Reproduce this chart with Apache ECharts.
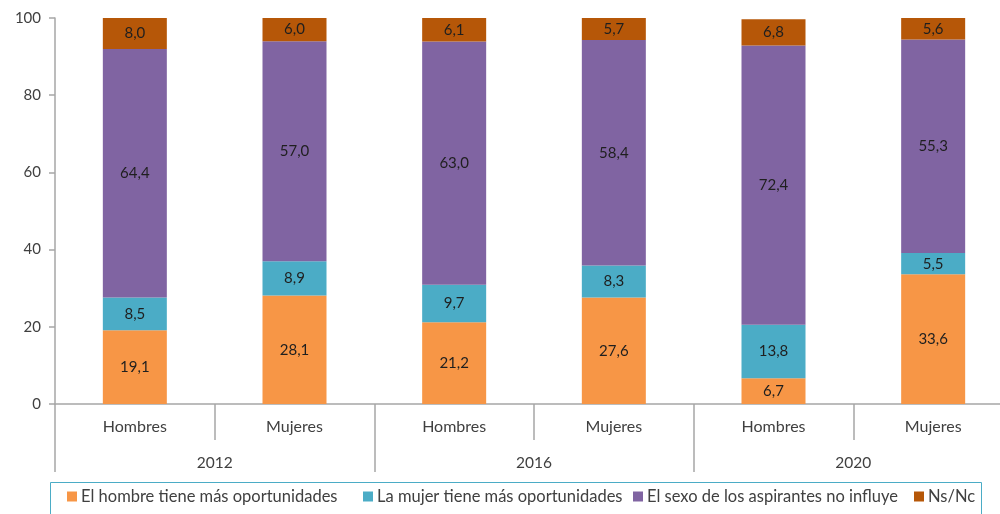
<!DOCTYPE html>
<html>
<head>
<meta charset="utf-8">
<script src="https://cdn.jsdelivr.net/npm/echarts@6/dist/echarts.min.js"></script>
<style>
  html, body { margin: 0; padding: 0; background: #fff; }
  #chart { width: 1000px; height: 514px; }
</style>
</head>
<body>
<div id="chart"></div>
<script>
// Categories: respondent sex within each survey year
const groups = ['Hombres', 'Mujeres', 'Hombres', 'Mujeres', 'Hombres', 'Mujeres'];
const years = ['2012', '2016', '2020'];

// Percentages for each answer, one value per bar
const hombreMas = [19.1, 28.1, 21.2, 27.6, 6.7, 33.6];
const mujerMas = [8.5, 8.9, 9.7, 8.3, 13.8, 5.5];
const noInfluye = [64.4, 57.0, 63.0, 58.4, 72.4, 55.3];
const nsnc = [8.0, 6.0, 6.1, 5.7, 6.8, 5.6];

const seriesNames = [
  'El hombre tiene más oportunidades',
  'La mujer tiene más oportunidades',
  'El sexo de los aspirantes no influye',
  'Ns/Nc'
];
const seriesData = [hombreMas, mujerMas, noInfluye, nsnc];
const colors = ['#F79646', '#4BACC6', '#8064A2', '#B65708'];

const FONT = 'Lato';
const axisGray = '#A6A6A6';
const textColor = '#404040';

// left edge of each legend entry inside the framed legend box
const legendLefts = [67, 363, 633, 914];

const chart = echarts.init(document.getElementById('chart'), null, { renderer: 'canvas' });

chart.setOption({
  animation: false,
  textStyle: { fontFamily: FONT },
  // the last category runs a little past the right edge of the canvas
  grid: { left: 55, top: 18, width: 958, height: 386, containLabel: false, outerBoundsMode: 'none' },
  graphic: [{
    type: 'rect',
    shape: { x: 50.5, y: 482.5, width: 931, height: 40 },
    style: { fill: 'none', stroke: '#4BACC6', lineWidth: 1 },
    silent: true
  }],
  legend: seriesNames.map((name, i) => ({
    left: legendLefts[i],
    top: 488,
    padding: 0,
    itemWidth: 10,
    itemHeight: 10,
    icon: 'rect',
    textStyle: { fontFamily: FONT, fontSize: 16.5, color: textColor, padding: [0, 0, 0, -1] },
    data: [name]
  })),
  xAxis: [{
    type: 'category',
    data: groups,
    position: 'bottom',
    axisLine: { lineStyle: { color: axisGray, width: 1.5 } },
    axisTick: { show: true, interval: 0, length: 36, lineStyle: { color: axisGray, width: 1.5 } },
    axisLabel: { interval: 0, margin: 15, fontFamily: FONT, fontSize: 16, color: textColor }
  }, {
    type: 'category',
    data: years,
    position: 'bottom',
    axisLine: { show: false },
    axisTick: { show: true, interval: 0, length: 68, lineStyle: { color: axisGray, width: 1.5 } },
    axisLabel: { interval: 0, margin: 51, fontFamily: FONT, fontSize: 15.5, color: textColor }
  }],
  yAxis: {
    type: 'value',
    min: 0,
    max: 100,
    interval: 20,
    axisLine: { show: true, lineStyle: { color: axisGray, width: 1.5 } },
    axisTick: { show: true, length: 6, lineStyle: { color: axisGray, width: 1.5 } },
    splitLine: { show: false },
    axisLabel: { margin: 14, fontFamily: FONT, fontSize: 15, color: textColor }
  },
  series: seriesData.map((d, i) => ({
    name: seriesNames[i],
    type: 'bar',
    stack: 'total',
    xAxisIndex: 0,
    barWidth: 64,
    data: d,
    itemStyle: { color: colors[i] },
    label: {
      show: true,
      position: 'inside',
      fontFamily: FONT,
      fontSize: 15,
      color: '#1F1F1F',
      formatter: p => p.value.toFixed(1).replace('.', ',')
    }
  }))
});
</script>
</body>
</html>
